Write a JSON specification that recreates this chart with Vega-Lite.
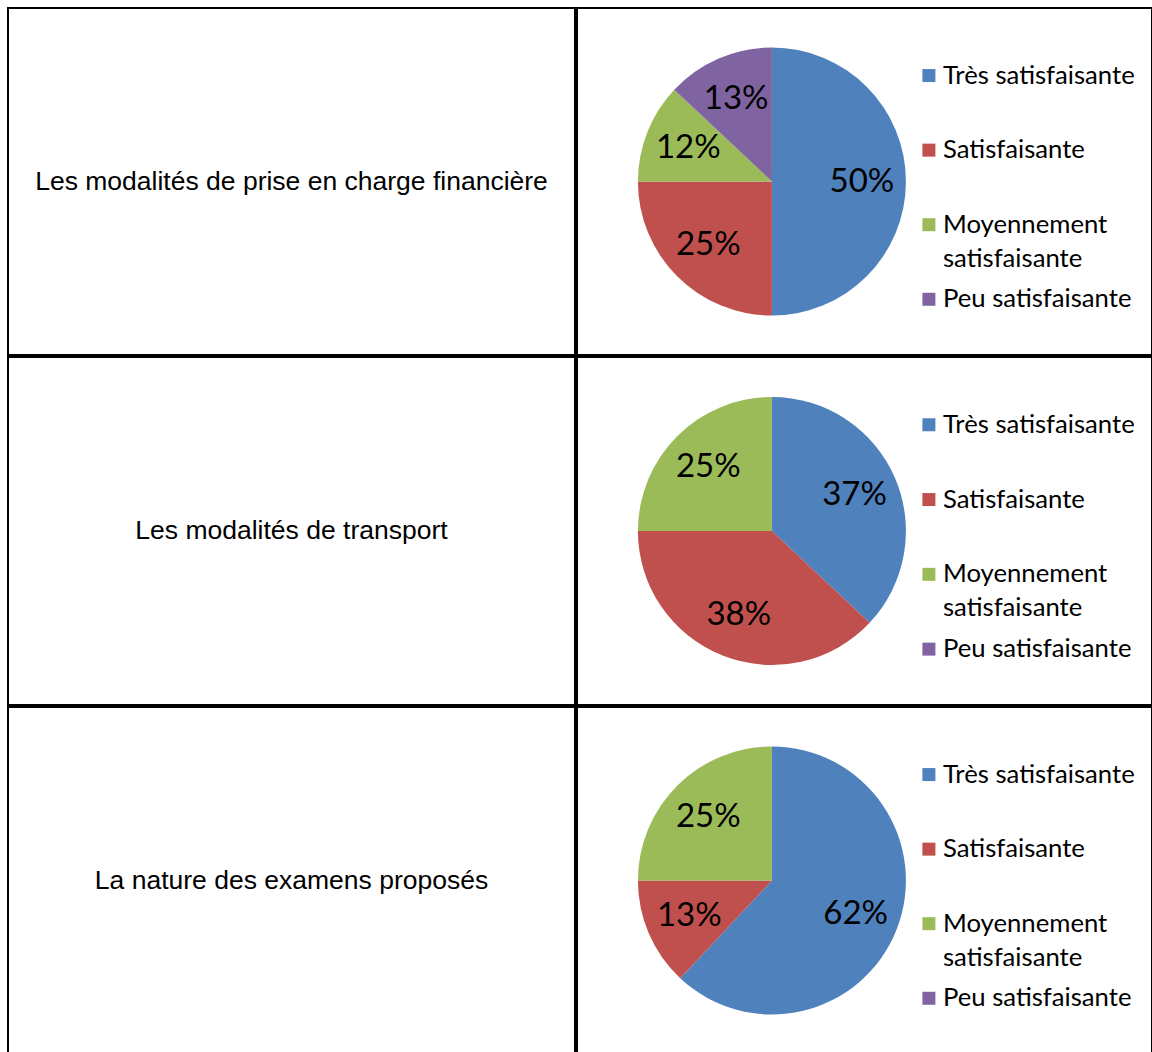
{
  "$schema": "https://vega.github.io/schema/vega-lite/v6.json",
  "padding": {"left": 7, "top": 7, "right": 0, "bottom": 0},
  "background": "white",
  "config": {"view": {"stroke": "black", "strokeWidth": 2}, "concat": {"spacing": 0}},
  "datasets": {
    "rows": [
      {"q": 1, "label": "Les modalités de prise en charge financière"},
      {"q": 2, "label": "Les modalités de transport"},
      {"q": 3, "label": "La nature des examens proposés"}
    ],
    "pies": [
      {"q": 1, "n": 1, "cat": "Très satisfaisante", "v": 0.50},
      {"q": 1, "n": 2, "cat": "Satisfaisante", "v": 0.25},
      {"q": 1, "n": 3, "cat": "Moyennement satisfaisante", "v": 0.12},
      {"q": 1, "n": 4, "cat": "Peu satisfaisante", "v": 0.13},
      {"q": 2, "n": 1, "cat": "Très satisfaisante", "v": 0.37},
      {"q": 2, "n": 2, "cat": "Satisfaisante", "v": 0.38},
      {"q": 2, "n": 3, "cat": "Moyennement satisfaisante", "v": 0.25},
      {"q": 2, "n": 4, "cat": "Peu satisfaisante", "v": 0},
      {"q": 3, "n": 1, "cat": "Très satisfaisante", "v": 0.62},
      {"q": 3, "n": 2, "cat": "Satisfaisante", "v": 0.13},
      {"q": 3, "n": 3, "cat": "Moyennement satisfaisante", "v": 0.25},
      {"q": 3, "n": 4, "cat": "Peu satisfaisante", "v": 0}
    ]
  },
  "vconcat": [
    {"spacing": 0, "hconcat": [
      {"width": 567, "height": 347, "data": {"name": "rows"}, "transform": [{"filter": "datum.q == 1"}],
       "mark": {"type": "text", "font": "Liberation Sans", "fontSize": 26.5, "align": "center", "baseline": "middle", "color": "black"},
       "encoding": {"text": {"field": "label"}, "x": {"datum": 0.5, "type": "quantitative", "scale": {"domain": [0, 1]}, "axis": null}, "y": {"datum": 0.5, "type": "quantitative", "scale": {"domain": [0, 1]}, "axis": null}}},
      {"width": 575, "height": 347, "data": {"name": "pies"}, "transform": [{"filter": "datum.q == 1"}],
       "encoding": {"color": {"field": "cat", "type": "nominal", "scale": {"domain": ["Très satisfaisante", "Satisfaisante", "Moyennement satisfaisante", "Peu satisfaisante"], "range": ["#4F81BD", "#C0504D", "#9BBB59", "#8064A2"]}, "legend": null}},
       "layer": [
         {"mark": {"type": "arc", "outerRadius": 134}, "encoding": {"theta": {"field": "v", "type": "quantitative", "stack": true}, "order": {"field": "n", "type": "quantitative"}, "x": {"datum": 0.339, "type": "quantitative", "scale": {"domain": [0, 1]}, "axis": null}}},
         {"transform": [{"filter": "datum.v > 0"}], "mark": {"type": "text", "radius": 90, "font": "Lato", "fontSize": 33, "align": "center", "baseline": "middle"}, "encoding": {"theta": {"field": "v", "type": "quantitative", "stack": true}, "order": {"field": "n", "type": "quantitative"}, "text": {"field": "v", "format": ".0%"}, "color": {"value": "black"}, "x": {"datum": 0.339, "type": "quantitative", "scale": {"domain": [0, 1]}, "axis": null}}},
         {"mark": {"type": "square", "size": 169, "opacity": 1}, "encoding": {"x": {"datum": 0.612, "type": "quantitative", "scale": {"domain": [0, 1]}, "axis": null}, "y": {"field": "cat", "type": "nominal", "scale": {"type": "point", "domain": ["Très satisfaisante", "Satisfaisante", "Moyennement satisfaisante", "Peu satisfaisante"], "padding": 0.8267, "align": 0.548}, "axis": null}}},
         {"transform": [{"filter": "datum.n != 3"}], "mark": {"type": "text", "font": "Lato", "fontSize": 25.7, "align": "left", "baseline": "middle"}, "encoding": {"x": {"datum": 0.6365, "type": "quantitative", "scale": {"domain": [0, 1]}, "axis": null}, "y": {"field": "cat", "type": "nominal", "axis": null}, "text": {"field": "cat"}, "color": {"value": "black"}}},
         {"transform": [{"filter": "datum.n == 3"}], "mark": {"type": "text", "font": "Lato", "fontSize": 25.7, "align": "left", "baseline": "alphabetic", "dy": 8, "lineBreak": " ", "lineHeight": 34}, "encoding": {"x": {"datum": 0.6365, "type": "quantitative", "scale": {"domain": [0, 1]}, "axis": null}, "y": {"field": "cat", "type": "nominal", "axis": null}, "text": {"field": "cat"}, "color": {"value": "black"}}}
       ]}
    ]},
    {"spacing": 0, "hconcat": [
      {"width": 567, "height": 348, "data": {"name": "rows"}, "transform": [{"filter": "datum.q == 2"}],
       "mark": {"type": "text", "font": "Liberation Sans", "fontSize": 26.5, "align": "center", "baseline": "middle", "color": "black"},
       "encoding": {"text": {"field": "label"}, "x": {"datum": 0.5, "type": "quantitative", "scale": {"domain": [0, 1]}, "axis": null}, "y": {"datum": 0.5, "type": "quantitative", "scale": {"domain": [0, 1]}, "axis": null}}},
      {"width": 575, "height": 348, "data": {"name": "pies"}, "transform": [{"filter": "datum.q == 2"}],
       "encoding": {"color": {"field": "cat", "type": "nominal", "scale": {"domain": ["Très satisfaisante", "Satisfaisante", "Moyennement satisfaisante", "Peu satisfaisante"], "range": ["#4F81BD", "#C0504D", "#9BBB59", "#8064A2"]}, "legend": null}},
       "layer": [
         {"mark": {"type": "arc", "outerRadius": 134}, "encoding": {"theta": {"field": "v", "type": "quantitative", "stack": true}, "order": {"field": "n", "type": "quantitative"}, "x": {"datum": 0.339, "type": "quantitative", "scale": {"domain": [0, 1]}, "axis": null}}},
         {"transform": [{"filter": "datum.v > 0"}], "mark": {"type": "text", "radius": 90, "font": "Lato", "fontSize": 33, "align": "center", "baseline": "middle"}, "encoding": {"theta": {"field": "v", "type": "quantitative", "stack": true}, "order": {"field": "n", "type": "quantitative"}, "text": {"field": "v", "format": ".0%"}, "color": {"value": "black"}, "x": {"datum": 0.339, "type": "quantitative", "scale": {"domain": [0, 1]}, "axis": null}}},
         {"mark": {"type": "square", "size": 169, "opacity": 1}, "encoding": {"x": {"datum": 0.612, "type": "quantitative", "scale": {"domain": [0, 1]}, "axis": null}, "y": {"field": "cat", "type": "nominal", "scale": {"type": "point", "domain": ["Très satisfaisante", "Satisfaisante", "Moyennement satisfaisante", "Peu satisfaisante"], "padding": 0.8267, "align": 0.548}, "axis": null}}},
         {"transform": [{"filter": "datum.n != 3"}], "mark": {"type": "text", "font": "Lato", "fontSize": 25.7, "align": "left", "baseline": "middle"}, "encoding": {"x": {"datum": 0.6365, "type": "quantitative", "scale": {"domain": [0, 1]}, "axis": null}, "y": {"field": "cat", "type": "nominal", "axis": null}, "text": {"field": "cat"}, "color": {"value": "black"}}},
         {"transform": [{"filter": "datum.n == 3"}], "mark": {"type": "text", "font": "Lato", "fontSize": 25.7, "align": "left", "baseline": "alphabetic", "dy": 8, "lineBreak": " ", "lineHeight": 34}, "encoding": {"x": {"datum": 0.6365, "type": "quantitative", "scale": {"domain": [0, 1]}, "axis": null}, "y": {"field": "cat", "type": "nominal", "axis": null}, "text": {"field": "cat"}, "color": {"value": "black"}}}
       ]}
    ]},
    {"spacing": 0, "hconcat": [
      {"width": 567, "height": 347, "data": {"name": "rows"}, "transform": [{"filter": "datum.q == 3"}],
       "mark": {"type": "text", "font": "Liberation Sans", "fontSize": 26.5, "align": "center", "baseline": "middle", "color": "black"},
       "encoding": {"text": {"field": "label"}, "x": {"datum": 0.5, "type": "quantitative", "scale": {"domain": [0, 1]}, "axis": null}, "y": {"datum": 0.5, "type": "quantitative", "scale": {"domain": [0, 1]}, "axis": null}}},
      {"width": 575, "height": 347, "data": {"name": "pies"}, "transform": [{"filter": "datum.q == 3"}],
       "encoding": {"color": {"field": "cat", "type": "nominal", "scale": {"domain": ["Très satisfaisante", "Satisfaisante", "Moyennement satisfaisante", "Peu satisfaisante"], "range": ["#4F81BD", "#C0504D", "#9BBB59", "#8064A2"]}, "legend": null}},
       "layer": [
         {"mark": {"type": "arc", "outerRadius": 134}, "encoding": {"theta": {"field": "v", "type": "quantitative", "stack": true}, "order": {"field": "n", "type": "quantitative"}, "x": {"datum": 0.339, "type": "quantitative", "scale": {"domain": [0, 1]}, "axis": null}}},
         {"transform": [{"filter": "datum.v > 0"}], "mark": {"type": "text", "radius": 90, "font": "Lato", "fontSize": 33, "align": "center", "baseline": "middle"}, "encoding": {"theta": {"field": "v", "type": "quantitative", "stack": true}, "order": {"field": "n", "type": "quantitative"}, "text": {"field": "v", "format": ".0%"}, "color": {"value": "black"}, "x": {"datum": 0.339, "type": "quantitative", "scale": {"domain": [0, 1]}, "axis": null}}},
         {"mark": {"type": "square", "size": 169, "opacity": 1}, "encoding": {"x": {"datum": 0.612, "type": "quantitative", "scale": {"domain": [0, 1]}, "axis": null}, "y": {"field": "cat", "type": "nominal", "scale": {"type": "point", "domain": ["Très satisfaisante", "Satisfaisante", "Moyennement satisfaisante", "Peu satisfaisante"], "padding": 0.8267, "align": 0.548}, "axis": null}}},
         {"transform": [{"filter": "datum.n != 3"}], "mark": {"type": "text", "font": "Lato", "fontSize": 25.7, "align": "left", "baseline": "middle"}, "encoding": {"x": {"datum": 0.6365, "type": "quantitative", "scale": {"domain": [0, 1]}, "axis": null}, "y": {"field": "cat", "type": "nominal", "axis": null}, "text": {"field": "cat"}, "color": {"value": "black"}}},
         {"transform": [{"filter": "datum.n == 3"}], "mark": {"type": "text", "font": "Lato", "fontSize": 25.7, "align": "left", "baseline": "alphabetic", "dy": 8, "lineBreak": " ", "lineHeight": 34}, "encoding": {"x": {"datum": 0.6365, "type": "quantitative", "scale": {"domain": [0, 1]}, "axis": null}, "y": {"field": "cat", "type": "nominal", "axis": null}, "text": {"field": "cat"}, "color": {"value": "black"}}}
       ]}
    ]}
  ]
}
